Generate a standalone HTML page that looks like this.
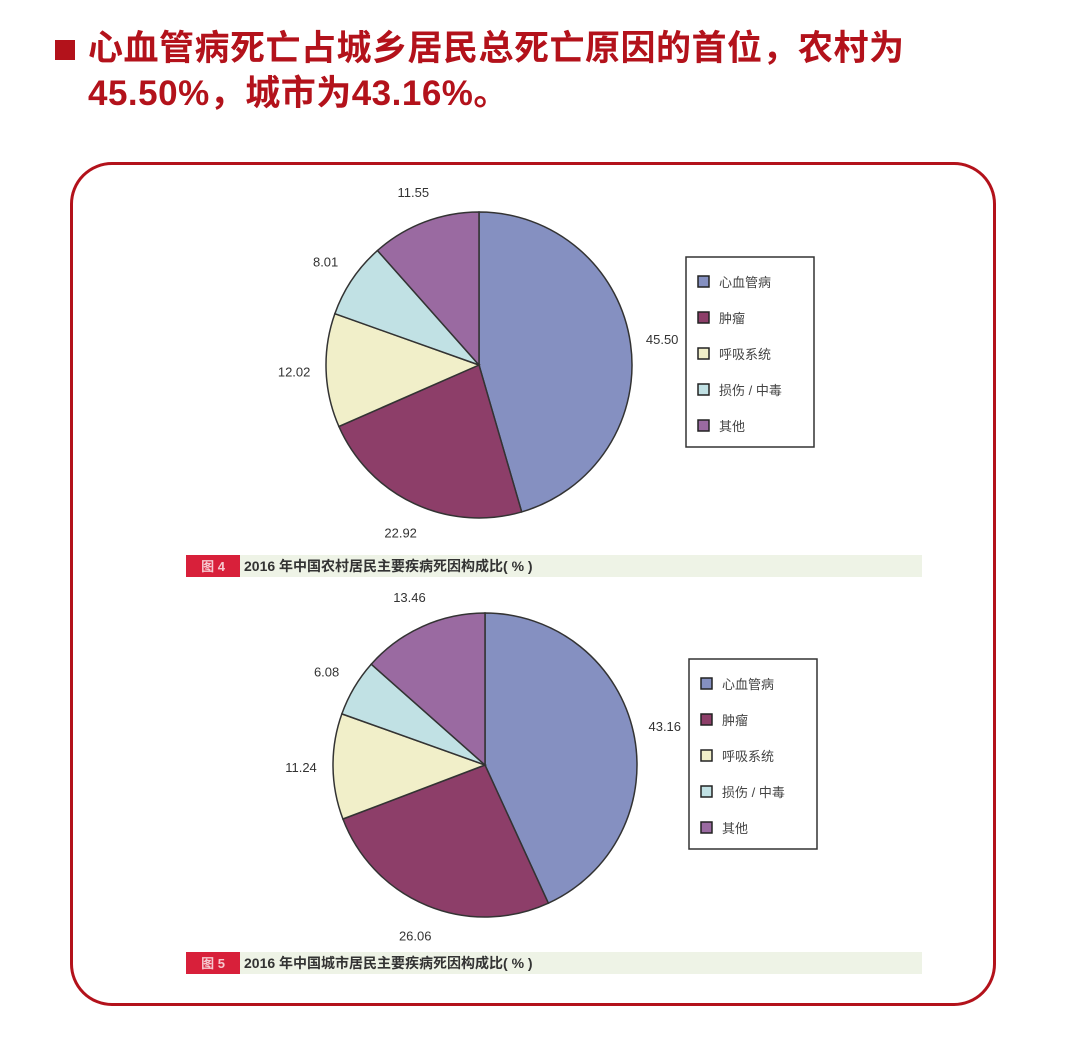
<!DOCTYPE html>
<html><head><meta charset="utf-8">
<style>
body{margin:0;background:#fff;width:1080px;height:1042px;overflow:hidden;position:relative;font-family:"Liberation Sans","Noto Sans CJK SC",sans-serif;}
#title{position:absolute;left:88px;top:26px;width:980px;font-size:35px;line-height:45px;font-weight:bold;color:#b3121b;font-family:"Liberation Sans","Noto Sans CJK SC",sans-serif;letter-spacing:0.5px}
#bullet{position:absolute;left:55px;top:40px;width:20px;height:20px;background:#b3121b}
#frame{position:absolute;left:70px;top:162px;width:920px;height:838px;border:3px solid #b3121b;border-radius:42px}
svg{position:absolute;left:0;top:0}
</style></head><body>
<div id="bullet"></div>
<div id="title">心血管病死亡占城乡居民总死亡原因的首位，农村为<br>45.50%，城市为43.16%。</div>
<div id="frame"></div>
<svg id="chart" width="1080" height="1042"></svg>
<script>
const categories=["心血管病","肿瘤","呼吸系统","损伤 / 中毒","其他"];
const ruralValues=[45.50,22.92,12.02,8.01,11.55];
const urbanValues=[43.16,26.06,11.24,6.08,13.46];
const colors=["#8590c1","#8d3e69","#f1efc9","#c1e1e4","#9a6aa1"];
const NS="http://www.w3.org/2000/svg";
const svg=document.getElementById('chart');
function mk(tag,attrs,parent){const e=document.createElementNS(NS,tag);for(const k in attrs)e.setAttribute(k,attrs[k]);(parent||svg).appendChild(e);return e;}
function drawPie(vals,cx,cy,r,name,legX,legY,capY,capText,figNo){
  const g=mk('g',{});
  
  
  const total=vals.reduce((a,b)=>a+b,0);
  let a0=0;
  vals.forEach((v,i)=>{
    const a1=a0+v/total*Math.PI*2;
    const x0=cx+r*Math.sin(a0),y0=cy-r*Math.cos(a0);
    const x1=cx+r*Math.sin(a1),y1=cy-r*Math.cos(a1);
    const large=(a1-a0)>Math.PI?1:0;
    const p=mk('path',{d:`M${cx},${cy}L${x0},${y0}A${r},${r} 0 ${large} 1 ${x1},${y1}Z`,fill:colors[i],stroke:'#333','stroke-width':1.5},g);
    
    
    const am=(a0+a1)/2;
    const lr=r+32;
    const t=mk('text',{x:cx+lr*Math.sin(am),y:cy-lr*Math.cos(am)+5,'text-anchor':'middle','font-size':13,fill:'#333'},g);
    t.textContent=v.toFixed(2);
    
    
    a0=a1;
  });
  const lg=mk('g',{},g);
  
  
  mk('rect',{x:legX,y:legY,width:128,height:190,fill:'#fff',stroke:'#333','stroke-width':1.5},lg);
  categories.forEach((c,i)=>{
    const yy=legY+25+i*36;
    const sq=mk('rect',{x:legX+12,y:yy-6,width:11,height:11,fill:colors[i],stroke:'#222','stroke-width':1.5},lg);
    
    
    const t=mk('text',{x:legX+33,y:yy+5,'font-size':13,fill:'#444'},lg);
    t.textContent=c;
    
    
  });
  const cg=mk('g',{},g);
  
  
  mk('rect',{x:240,y:capY,width:682,height:22,fill:'#eef3e6'},cg);
  mk('rect',{x:186,y:capY,width:54,height:22,fill:'#d8203a'},cg);
  const f=mk('text',{x:213,y:capY+16,'text-anchor':'middle','font-size':13,'font-weight':'bold',fill:'#f6c8cf'},cg);
  f.textContent='图 '+figNo;
  const ct=mk('text',{x:244,y:capY+16,'font-size':14,'font-weight':'bold',fill:'#333'},cg);
  ct.textContent=capText;
}
drawPie(ruralValues,479,365,153,'rural-pie',686,257,555,'2016 年中国农村居民主要疾病死因构成比( % )',4);
drawPie(urbanValues,485,765,152,'urban-pie',689,659,952,'2016 年中国城市居民主要疾病死因构成比( % )',5);
</script>
</body></html>
